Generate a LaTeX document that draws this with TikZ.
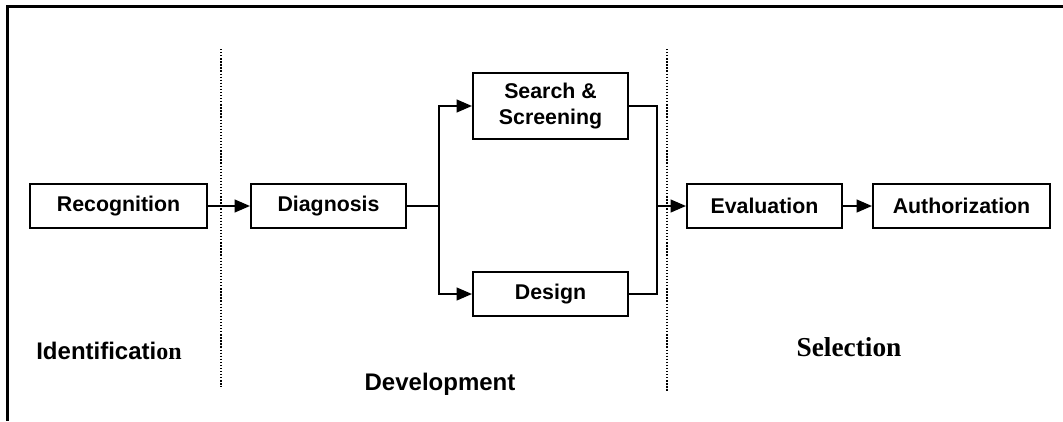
\documentclass[tikz,border=0pt]{standalone}
\usepackage{fontspec}
\setmainfont{Liberation Serif}
\setsansfont{Liberation Sans}
\usetikzlibrary{positioning,arrows.meta}

\begin{document}
\begin{tikzpicture}[x=0.75pt, y=-0.75pt, node distance=21.75pt,
	b/.style={draw, line width=1.5pt, minimum width=116.25pt, minimum height=33pt, inner sep=0pt, align=center, font=\sffamily\bfseries\fontsize{16}{19}\selectfont},
	wide/.style={minimum width=132.75pt},
	phase/.style={font=\sffamily\bfseries\fontsize{18}{20}\selectfont},
	arr/.style={-{Triangle[length=11.5pt, width=9.5pt]}, line width=1.5pt},
	sep/.style={line width=0.9pt, dash pattern=on 1pt off 1.3pt}]
		\useasboundingbox (0,0) rectangle (1063,421);
		\draw[line width=2.25pt] (1063,6) -| (7,421);

		\node[b, wide] (rec) at (118.5,206) {Recognition};
		\node[b] (diag) at (328.5,206) {Diagnosis};
		\node[b, minimum height=49.5pt] (search) at (550.5,106) {Search \&\\Screening};
		\node[b] (design) at (550.5,294) {Design};
		\node[b] (eval) at (764.5,206) {Evaluation};
		\node[b, wide, right=of eval] (auth) {Authorization};

		\coordinate (split) at (439,206);
		\coordinate (merge) at (657,206);

		\draw[sep] (221,49) -- (221,387);
		\draw[sep] (667,49) -- (667,391);

		\draw[arr] (rec) -- (diag);
		\draw[line width=1.5pt] (diag) -- (split);
		\draw[arr] (split) |- (search);
		\draw[arr] (split) |- (design);
		\draw[line width=1.5pt] (search) -| (merge);
		\draw[line width=1.5pt] (design) -| (merge);
		\draw[arr] (merge) -- (eval);
		\draw[arr] (eval) -- (auth);

		\node[phase] (ident) at (109,351) {Identificati\rmfamily on};
		\node[phase] (devel) at (440,384) {Development};
		\node[font=\rmfamily\bfseries\fontsize{20.5}{22}\selectfont] (select) at (849,347) {Selection};
	\end{tikzpicture}
\end{document}
